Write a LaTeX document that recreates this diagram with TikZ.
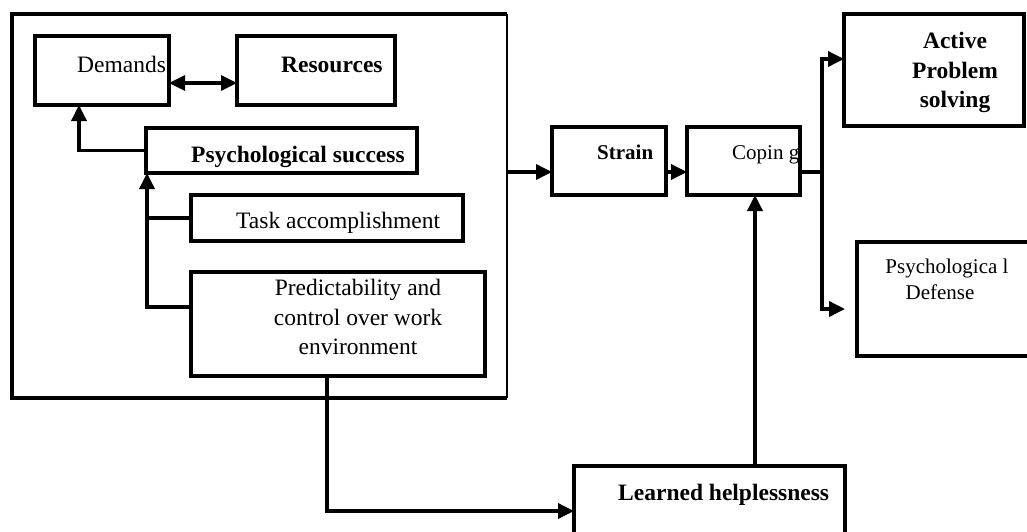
\documentclass[tikz,border=0pt]{standalone}
\usepackage{fontspec}
\setmainfont{Liberation Serif}
\usetikzlibrary{arrows.meta}
\begin{document}
\begin{tikzpicture}[x=1pt,y=-1pt,
  box/.style={draw, line width=3.3pt, inner sep=0pt, outer sep=0pt},
  conn/.style={line width=3.5pt},
  arr/.style={conn, -{Triangle[length=16pt,width=15pt]}},
  big/.style={inner sep=0pt, font=\fontsize{23.5}{29}\selectfont},
  bigb/.style={inner sep=0pt, font=\fontsize{23.5}{29}\selectfont\bfseries},
  small/.style={inner sep=0pt, font=\fontsize{21}{26}\selectfont},
  smallb/.style={inner sep=0pt, font=\fontsize{21}{26}\selectfont\bfseries},
]
\useasboundingbox (0,0) rectangle (1027,531);
\clip (0,0) rectangle (1027,531);

% outer frame
\node[inner sep=0pt, outer sep=0pt, minimum width=495pt, minimum height=384pt] (outer) at (259.5,206) {};
\draw[line width=3.2pt] (outer.north east) -- (outer.north west) -- (outer.south west) -- (outer.south east);
\draw[line width=1.5pt] (outer.north east) -- (outer.south east);

% boxes
\node[box, minimum width=134pt, minimum height=69pt] (dem) at (102,70.5) {};
\node[box, minimum width=158pt, minimum height=69pt] (res) at (316,70.5) {};
\node[box, minimum width=271pt, minimum height=45pt] (psy) at (281.5,150.5) {};
\node[box, minimum width=272pt, minimum height=46pt] (task) at (327,218) {};
\node[box, minimum width=294pt, minimum height=104pt] (pred) at (338,324) {};
\node[box, minimum width=114pt, minimum height=68pt] (strain) at (609,161) {};
\node[box, minimum width=113pt, minimum height=68pt] (coping) at (743.5,161) {};
\node[box, minimum width=180pt, minimum height=112pt] (active) at (934,70) {};
\node[box, minimum width=190pt, minimum height=114pt] (defense) at (952,299) {};
\node[box, minimum width=271pt, minimum height=90pt] (learned) at (709.5,511) {};

% texts
\node[big, anchor=base west] (tdem) at (77,72) {Demands};
\node[bigb, anchor=base west] (tres) at (281,72) {Resources};
\node[bigb, anchor=base west] (tpsy) at (191,162) {Psychological success};
\node[big, anchor=base west] (ttask) at (236,228) {Task accomplishment};
\node[big, anchor=base] (tpred1) at (358,295) {Predictability and};
\node[big, anchor=base] (tpred2) at (358,325) {control over work};
\node[big, anchor=base] (tpred3) at (358,354) {environment};
\node[smallb, anchor=base west] (tstrain) at (597,159) {Strain};
\node[small, anchor=base west] (tcoping) at (732,159) {Copin g};
\node[bigb, anchor=base] (tact1) at (955,48) {Active};
\node[bigb, anchor=base] (tact2) at (955,78) {Problem};
\node[bigb, anchor=base] (tact3) at (955,107) {solving};
\node[small, anchor=base] (tdef1) at (947,273) {Psychologica l};
\node[small, anchor=base] (tdef2) at (940,299) {Defense};
\node[bigb, anchor=base west] (tlearn) at (618,500) {Learned helplessness};

% connectors
\coordinate (jn) at ([xshift=1pt]psy.south west);
\draw[line width=3.2pt, {Triangle[length=16pt,width=15pt]}-{Triangle[length=16pt,width=15pt]}]
  ([yshift=-12.5pt]dem.east) -- ([yshift=-12.5pt]res.west);
\draw[arr] (psy.west) -| ([xshift=-23pt]dem.south);
\draw[arr] ([yshift=17pt]pred.west) -| (jn);
\draw[conn] (task.west) -- (task.west -| jn);
\draw[arr] ([xshift=-11pt]pred.south) |- (learned.west);
\coordinate (lt) at ([xshift=45.5pt]learned.north);
\draw[arr] (lt) -- (lt |- coping.south);
\coordinate (sy) at ([yshift=-11pt]strain.west);
\draw[arr] (outer.east |- sy) -- (sy);
\draw[arr] ([yshift=-11pt]strain.east) -- ([yshift=-11pt]coping.west);
\coordinate (br) at (822,172);
\coordinate (dtip) at (845,309);
\draw[conn] ([yshift=-11pt]coping.east) -- (br);
\draw[arr] (br) |- ([yshift=11pt]active.west);
\draw[arr] (br) |- (dtip);
\end{tikzpicture}
\end{document}
